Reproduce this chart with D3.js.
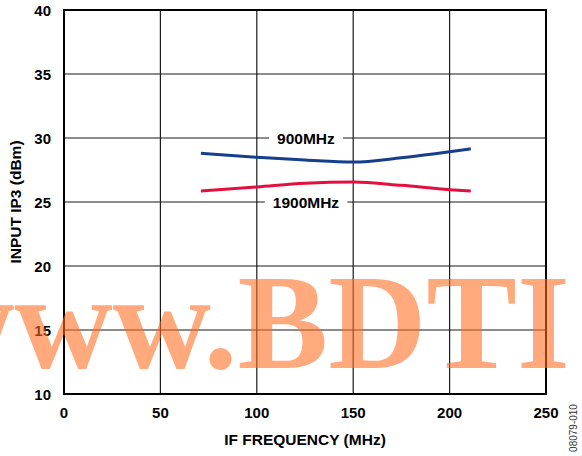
<!DOCTYPE html>
<html><head><meta charset="utf-8">
<script src="https://cdn.jsdelivr.net/npm/d3@7"></script>
<style>html,body{margin:0;padding:0;background:#fff;}svg{display:block;}</style>
</head><body>
<svg id="c" width="582" height="456"></svg>
<script>
const freqs = [71, 100, 125, 150, 175, 200, 211];
const ip3_900 = [28.8, 28.49, 28.28, 28.12, 28.46, 28.93, 29.16];
const ip3_1900 = [25.86, 26.17, 26.46, 26.56, 26.30, 25.96, 25.86];
const xTicks = [0, 50, 100, 150, 200, 250];
const yTicks = [10, 15, 20, 25, 30, 35, 40];
const seriesNames = ["900MHz", "1900MHz"];
const labelPos = [[125.5, 30], [125.5, 25]];
const colors = ["#153f8c", "#e3103f"];

const svg = d3.select("#c");
const L = 64, T = 10, W = 482, H = 384;
const x = d3.scaleLinear().domain([0, 250]).range([L, L + W]);
const y = d3.scaleLinear().domain([10, 40]).range([T + H, T]);
const font = "'Liberation Sans', Arial, sans-serif";

// grid
const g = svg.append("g");
g.selectAll("line.v").data(xTicks).enter().append("line")
  .attr("x1", d => x(d)).attr("x2", d => x(d)).attr("y1", T).attr("y2", T + H)
  .attr("stroke", "#1a1a1a").attr("stroke-width", 1.2);
g.selectAll("line.h").data(yTicks).enter().append("line")
  .attr("y1", d => y(d)).attr("y2", d => y(d)).attr("x1", L).attr("x2", L + W)
  .attr("stroke", "#1a1a1a").attr("stroke-width", 1.2);
g.append("rect").attr("x", L).attr("y", T).attr("width", W).attr("height", H)
  .attr("fill", "none").attr("stroke", "#000").attr("stroke-width", 2);

// tick labels
svg.selectAll("text.xt").data(xTicks).enter().append("text")
  .attr("x", d => x(d)).attr("y", 418).attr("text-anchor", "middle")
  .attr("font-family", font).attr("font-weight", "bold").attr("font-size", 15)
  .text(d => d);
svg.selectAll("text.yt").data(yTicks).enter().append("text")
  .attr("x", 51).attr("y", d => y(d) + 5.5).attr("text-anchor", "end")
  .attr("font-family", font).attr("font-weight", "bold").attr("font-size", 15)
  .text(d => d);

// titles
svg.append("text").attr("x", x(125)).attr("y", 445).attr("text-anchor", "middle")
  .attr("font-family", font).attr("font-weight", "bold").attr("font-size", 15.5)
  .text("IF FREQUENCY (MHz)");
svg.append("text").attr("transform", `translate(21,${y(25)}) rotate(-90)`)
  .attr("text-anchor", "middle")
  .attr("font-family", font).attr("font-weight", "bold").attr("font-size", 15.5)
  .text("INPUT IP3 (dBm)");
svg.append("text").attr("transform", "translate(577,428) rotate(-90)")
  .attr("text-anchor", "middle")
  .attr("font-family", font).attr("font-size", 10).attr("fill", "#333")
  .text("08079-010");

// curves
const line = d3.line().x(d => x(d[0])).y(d => y(d[1])).curve(d3.curveMonotoneX);
[ip3_900, ip3_1900].forEach((vals, i) => {
  svg.append("path").datum(freqs.map((f, j) => [f, vals[j]]))
    .attr("d", line).attr("fill", "none")
    .attr("stroke", colors[i]).attr("stroke-width", 3);
});

// series labels with white boxes
seriesNames.forEach((name, i) => {
  const t = svg.append("text").attr("x", x(labelPos[i][0])).attr("y", y(labelPos[i][1]) + 5.5)
    .attr("text-anchor", "middle")
    .attr("font-family", font).attr("font-weight", "bold").attr("font-size", 15.5)
    .text(name);
  const bb = t.node().getBBox();
  svg.insert("rect", () => t.node())
    .attr("x", bb.x - 8).attr("y", bb.y).attr("width", bb.width + 16).attr("height", bb.height)
    .attr("fill", "#fff");
});

// watermark
svg.append("text").attr("x", 570).attr("y", 368).attr("text-anchor", "end")
  .attr("font-family", "'Liberation Serif', 'Times New Roman', serif")
  .attr("font-weight", "bold").attr("font-size", 136)
  .attr("fill", "#ff6a1f").attr("fill-opacity", 0.58)
  .text("www.BDTI");
</script>
</body></html>
